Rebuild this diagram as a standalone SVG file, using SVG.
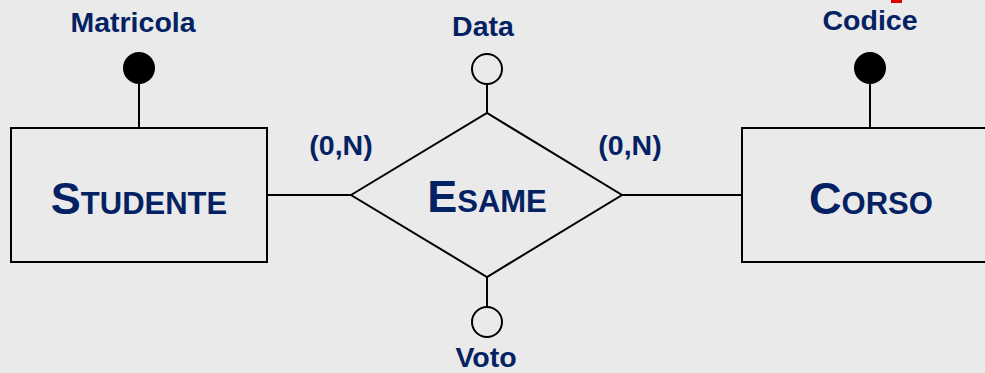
<svg xmlns="http://www.w3.org/2000/svg" width="985" height="373" viewBox="0 0 985 373">
<style>
.shape{fill:none;stroke:#000;stroke-width:2}
.line{stroke:#000;stroke-width:2;fill:none}
.lbl{font-family:"Liberation Sans",Arial,sans-serif;font-weight:bold;fill:#042263;text-anchor:middle}
.attr{font-size:28.5px}
.big{font-size:45px}
.sc{font-size:31px}
.kf{fill:#000;stroke:#000;stroke-width:2}
.ko{fill:#eaeaea;stroke:#000;stroke-width:2}
</style>
<rect width="985" height="373" fill="#eaeaea"/>
<rect x="891" y="0" width="11" height="3" fill="#e00000"/>
<g id="connectors">
<line class="line" x1="267" y1="195" x2="351" y2="195"/>
<line class="line" x1="622" y1="195" x2="742" y2="195"/>
<line class="line" x1="139" y1="84" x2="139" y2="128"/>
<line class="line" x1="870" y1="84" x2="870" y2="128"/>
<line class="line" x1="487" y1="84" x2="487" y2="113"/>
<line class="line" x1="487" y1="277" x2="487" y2="307"/>
</g>
<g id="studente">
<rect class="shape" x="11" y="128" width="256" height="134"/>
<text class="lbl big" x="139" y="214">S<tspan class="sc">TUDENTE</tspan></text>
</g>
<g id="corso">
<rect class="shape" x="742" y="128" width="260" height="134"/>
<text class="lbl big" x="871" y="214">C<tspan class="sc">ORSO</tspan></text>
</g>
<g id="esame">
<polygon class="shape" points="351,195 487,113 622,195 487,277"/>
<text class="lbl big" x="487" y="212">E<tspan class="sc">SAME</tspan></text>
</g>
<g id="matricola">
<circle class="kf" cx="139" cy="68" r="15"/>
<text class="lbl attr" x="133" y="32">Matricola</text>
</g>
<g id="codice">
<circle class="kf" cx="870" cy="68" r="15"/>
<text class="lbl attr" x="870" y="30">Codice</text>
</g>
<g id="data">
<circle class="ko" cx="487" cy="69" r="15"/>
<text class="lbl attr" x="483" y="36">Data</text>
</g>
<g id="voto">
<circle class="ko" cx="487" cy="322" r="15"/>
<text class="lbl attr" x="486" y="367">Voto</text>
</g>
<g id="card-left"><text class="lbl attr" x="341" y="155">(0,N)</text></g>
<g id="card-right"><text class="lbl attr" x="630" y="155">(0,N)</text></g>
</svg>
